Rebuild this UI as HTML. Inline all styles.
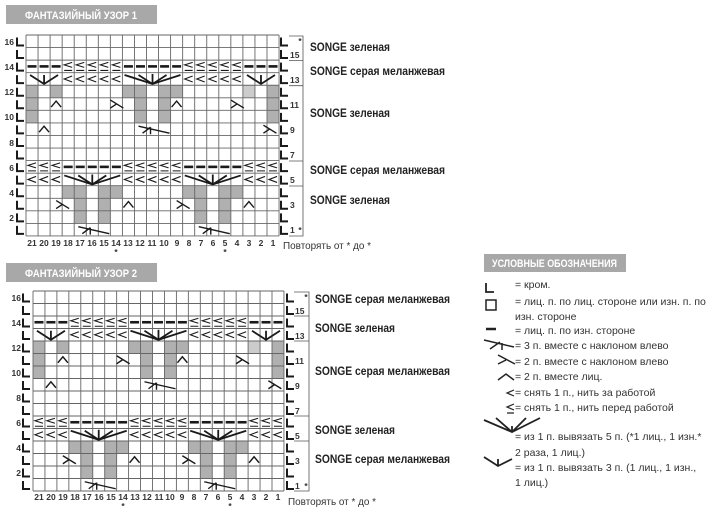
<!DOCTYPE html>
<html><head><meta charset="utf-8"><style>
body{margin:0;background:#fff;width:720px;height:513px;overflow:hidden}
svg{position:absolute;left:0;top:0}
.t{font-family:"Liberation Sans",sans-serif;font-weight:bold;fill:#fff;font-size:11px}
.n{font-family:"Liberation Sans",sans-serif;font-weight:bold;fill:#333;font-size:8.5px}
.lb{font-family:"Liberation Sans",sans-serif;font-weight:bold;fill:#222;font-size:12px}
.lg{font-family:"Liberation Sans",sans-serif;fill:#333;font-size:10.5px}
</style></head><body>
<svg width="720" height="513" viewBox="0 0 720 513" xmlns="http://www.w3.org/2000/svg">
<rect x="6" y="5" width="151" height="19" fill="#a8a8a8"/>
<text class="t" x="25" y="19" textLength="112" lengthAdjust="spacingAndGlyphs">ФАНТАЗИЙНЫЙ УЗОР 1</text>
<rect x="6" y="263" width="151" height="19" fill="#a8a8a8"/>
<text class="t" x="25" y="277" textLength="112" lengthAdjust="spacingAndGlyphs">ФАНТАЗИЙНЫЙ УЗОР 2</text>
<rect x="484" y="254" width="142" height="18" fill="#a8a8a8"/>
<text class="t" x="492" y="267" textLength="125" lengthAdjust="spacingAndGlyphs">УСЛОВНЫЕ ОБОЗНАЧЕНИЯ</text>

<g id="c1"></g><g id="c2"></g>

<!-- chart1 numbers -->
<g class="n" text-anchor="end">
<text x="14" y="45">16</text><text x="14" y="70">14</text><text x="14" y="95">12</text><text x="14" y="120">10</text><text x="14" y="146">8</text><text x="14" y="171">6</text><text x="14" y="196">4</text><text x="14" y="221">2</text>
<text x="21" y="301">16</text><text x="21" y="326">14</text><text x="21" y="351">12</text><text x="21" y="376">10</text><text x="21" y="401">8</text><text x="21" y="426">6</text><text x="21" y="451">4</text><text x="21" y="476">2</text>
</g>
<g class="n">
<text x="290" y="58">15</text><text x="290" y="83">13</text><text x="290" y="108">11</text><text x="290" y="133">9</text><text x="290" y="158">7</text><text x="290" y="183">5</text><text x="290" y="208">3</text><text x="290" y="233">1</text>
<text x="295" y="314">15</text><text x="295" y="339">13</text><text x="295" y="364">11</text><text x="295" y="389">9</text><text x="295" y="414">7</text><text x="295" y="439">5</text><text x="295" y="464">3</text><text x="295" y="489">1</text>
</g>
<g class="n" text-anchor="middle">
<text x="32" y="246">21</text><text x="44" y="246">20</text><text x="56" y="246">19</text><text x="68" y="246">18</text><text x="80" y="246">17</text><text x="92" y="246">16</text><text x="104" y="246">15</text><text x="116" y="246">14</text><text x="128" y="246">13</text><text x="140" y="246">12</text><text x="152" y="246">11</text><text x="164" y="246">10</text><text x="177" y="246">9</text><text x="189" y="246">8</text><text x="201" y="246">7</text><text x="213" y="246">6</text><text x="225" y="246">5</text><text x="237" y="246">4</text><text x="249" y="246">3</text><text x="261" y="246">2</text><text x="273" y="246">1</text>
<text x="116" y="255">*</text><text x="225" y="255">*</text>
<text x="39" y="500">21</text><text x="51" y="500">20</text><text x="63" y="500">19</text><text x="75" y="500">18</text><text x="87" y="500">17</text><text x="99" y="500">16</text><text x="111" y="500">15</text><text x="123" y="500">14</text><text x="135" y="500">13</text><text x="147" y="500">12</text><text x="159" y="500">11</text><text x="170" y="500">10</text><text x="182" y="500">9</text><text x="194" y="500">8</text><text x="206" y="500">7</text><text x="218" y="500">6</text><text x="230" y="500">5</text><text x="242" y="500">4</text><text x="254" y="500">3</text><text x="266" y="500">2</text><text x="278" y="500">1</text>
<text x="123" y="509">*</text><text x="230" y="509">*</text>
<text x="300" y="44">*</text><text x="300" y="233">*</text>
<text x="306" y="300">*</text><text x="306" y="489">*</text>
</g>
<g stroke="#555" stroke-width="0.8" fill="none">
<path d="M289 36H303V236H289M289 60.5H303M289 85.7H303M289 161H303M289 186H303"/>
<path d="M294 292H309V491H294M294 316H309M294 341H309M294 416H309M294 441H309"/>
</g>
<g class="lb">
<text x="310" y="51" textLength="80" lengthAdjust="spacingAndGlyphs">SONGE зеленая</text>
<text x="310" y="75" textLength="135" lengthAdjust="spacingAndGlyphs">SONGE серая меланжевая</text>
<text x="310" y="117" textLength="80" lengthAdjust="spacingAndGlyphs">SONGE зеленая</text>
<text x="310" y="174" textLength="135" lengthAdjust="spacingAndGlyphs">SONGE серая меланжевая</text>
<text x="310" y="204" textLength="80" lengthAdjust="spacingAndGlyphs">SONGE зеленая</text>
<text x="315" y="303" textLength="135" lengthAdjust="spacingAndGlyphs">SONGE серая меланжевая</text>
<text x="315" y="332" textLength="80" lengthAdjust="spacingAndGlyphs">SONGE зеленая</text>
<text x="315" y="375" textLength="135" lengthAdjust="spacingAndGlyphs">SONGE серая меланжевая</text>
<text x="315" y="434" textLength="80" lengthAdjust="spacingAndGlyphs">SONGE зеленая</text>
<text x="315" y="463" textLength="135" lengthAdjust="spacingAndGlyphs">SONGE серая меланжевая</text>
</g>
<text class="lg" x="283" y="249" textLength="88" lengthAdjust="spacingAndGlyphs">Повторять от * до *</text>
<text class="lg" x="288" y="505" textLength="88" lengthAdjust="spacingAndGlyphs">Повторять от * до *</text>

<!-- legend -->
<g stroke="#222" fill="none" stroke-width="1.8">
<path d="M486 283V292H494"/>
<rect x="486" y="300" width="10" height="10" stroke-width="1.5"/>
<path d="M486 329H496" stroke-width="2.5"/>
<path d="M484 340L514 347M490 349L500 342M502 343V350" stroke-width="1.5"/>
<path d="M498 355L515 364M498 364L506 360" stroke-width="1.5"/>
<path d="M498 380L506 374L514 380" stroke-width="1.5"/>
<path d="M514 390L507 393L514 396" stroke-width="1.2"/>
<path d="M514 404L507 407L514 410M507 413H514" stroke-width="1.2"/>
<path d="M484 420L512 432L540 418M496 418L512 432L526 418M512 432V426" stroke-width="1.8"/>
<path d="M484 457L498 466L512 459M498 466V459" stroke-width="1.8"/>
</g>
<g class="lg">
<text x="515" y="288">= кром.</text>
<text x="515" y="305">= лиц. п. по лиц. стороне или изн. п. по</text>
<text x="515" y="320">изн. стороне</text>
<text x="515" y="334">= лиц. п. по изн. стороне</text>
<text x="515" y="349">= 3 п. вместе с наклоном влево</text>
<text x="515" y="365">= 2 п. вместе с наклоном влево</text>
<text x="515" y="380">= 2 п. вместе лиц.</text>
<text x="515" y="396">= снять 1 п., нить за работой</text>
<text x="515" y="411">= снять 1 п., нить перед работой</text>
<text x="515" y="440">= из 1 п. вывязать 5 п. (*1 лиц., 1 изн.*</text>
<text x="515" y="456">2 раза, 1 лиц.)</text>
<text x="515" y="471">= из 1 п. вывязать 3 п. (1 лиц., 1 изн.,</text>
<text x="515" y="486">1 лиц.)</text>
</g>
</svg>
<script>
function chart(id,x0,y0,cw,ch,lx,rx){
 var s='';
 function cx(c){return x0+(c+0.5)*cw} function cy(r){return y0+(16-r+0.5)*ch}
 function cell(c,r,f){s+='<rect x="'+(x0+c*cw)+'" y="'+(y0+(16-r)*ch)+'" width="'+cw+'" height="'+ch+'" fill="'+f+'"/>'}
 var G='#b0b0b0',L='#cccccc';
 [[12,[0,2,8,9,11,12,20]],[11,[0,9,11,20]],[10,[0,9,11,20]],[4,[3,4,6,7,13,14,16,17]],[3,[4,6,14,16]],[2,[4,6,14,16]]].forEach(function(a){a[1].forEach(function(c){cell(c,a[0],G)})});
 cell(18,12,L);
 s+='<g stroke="#666" stroke-width="0.9">';
 for(var i=0;i<=21;i++)s+='<line x1="'+(x0+i*cw)+'" y1="'+y0+'" x2="'+(x0+i*cw)+'" y2="'+(y0+16*ch)+'"/>';
 for(var j=0;j<=16;j++)s+='<line x1="'+x0+'" y1="'+(y0+j*ch)+'" x2="'+(x0+21*cw)+'" y2="'+(y0+j*ch)+'"/>';
 s+='</g><g stroke="#1a1a1a" fill="none" stroke-width="1.4">';
 function dash(c,r){s+='<path stroke-width="2.6" d="M'+(cx(c)-4.5)+' '+cy(r)+'h9"/>'}
 function sf(c,r){var x=cx(c),y=cy(r);s+='<path stroke-width="1.1" d="M'+(x+4)+' '+(y-4)+'L'+(x-4)+' '+(y-1.5)+'L'+(x+4)+' '+(y+1)+'M'+(x-4)+' '+(y+4)+'h8"/>'}
 function sb(c,r){var x=cx(c),y=cy(r);s+='<path stroke-width="1.1" d="M'+(x+4)+' '+(y-3)+'L'+(x-4)+' '+(y)+'L'+(x+4)+' '+(y+3)+'"/>'}
 function up(c,r){var x=cx(c),y=cy(r);s+='<path d="M'+(x-5)+' '+(y+3)+'L'+x+' '+(y-3)+'L'+(x+5)+' '+(y+3)+'"/>'}
 function tl(c,r){var x=cx(c),y=cy(r);s+='<path d="M'+(x-6)+' '+(y-4)+'L'+(x+7)+' '+(y+4)+'M'+(x-6)+' '+(y+4)+'L'+(x)+' '+(y)+'"/>'}
 function t3(c,r){var x=cx(c),y=cy(r);s+='<path d="M'+(x-14)+' '+(y-3)+'L'+(x+17)+' '+(y+4)+'M'+(x-10)+' '+(y+4)+'L'+(x-2)+' '+(y-2)+'M'+(x-2)+' '+(y-2)+'V'+(y+5)+'"/>'}
 function f3(c,r){var x=cx(c),y=cy(r);s+='<path stroke-width="1.8" d="M'+(x-14)+' '+(y-4)+'L'+x+' '+(y+5)+'L'+(x+14)+' '+(y-4)+'M'+x+' '+(y-4)+'V'+(y+5)+'"/>'}
 function f5(c,r){var x=cx(c),y=cy(r);s+='<path stroke-width="1.8" d="M'+(x-28)+' '+(y-4)+'L'+x+' '+(y+5)+'L'+(x+28)+' '+(y-4)+'M'+(x-14)+' '+(y-4)+'L'+x+' '+(y+5)+'L'+(x+14)+' '+(y-4)+'M'+x+' '+(y-5)+'V'+(y+5)+'"/>'}
 for(var c=0;c<21;c++){
  if(c<3||(c>7&&c<13)||c>17)dash(c,14);else sf(c,14);
  if((c>2&&c<8)||(c>12&&c<18))sb(c,13);
  if(c<3||(c>7&&c<13)||c>17)sf(c,6);else dash(c,6);
  if(c<3||(c>7&&c<13)||c>17)sb(c,5);
 }
 f3(1,13);f5(10,13);f3(19,13);f5(5,5);f5(15,5);
 up(2,11);tl(7,11);up(12,11);tl(17,11);
 up(1,9);t3(10,9);tl(19.7,9);
 tl(2.5,3);up(8,3);tl(12.5,3);up(18,3);
 t3(5,1);t3(15,1);
 s+='</g><g stroke="#1a1a1a" stroke-width="2" fill="none">';
 for(var r=1;r<=16;r++){var y=y0+(16-r)*ch;
  s+='<path d="M'+lx+' '+(y+2.5)+'V'+(y+10.5)+'H'+(lx+7)+'"/>';
  s+='<path d="M'+rx+' '+(y+2.5)+'V'+(y+10.5)+'H'+(rx+7)+'"/>';}
 s+='</g>';
 document.getElementById(id).innerHTML=s;
}
chart('c1',26,35,12.05,12.56,17,281);
chart('c2',33,291,11.95,12.5,23,287);
</script>
</body></html>
